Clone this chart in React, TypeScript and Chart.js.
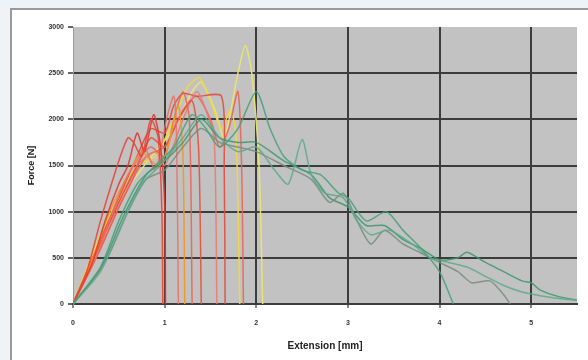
import React, { useEffect, useRef } from "react";
import { Chart, registerables } from "chart.js";

Chart.register(...registerables);

type P = [number, number];

// Extension [mm], Force [N]
const red1: P[] = [[0,0],[0.15,350],[0.3,900],[0.42,1300],[0.5,1550],[0.6,1800],[0.66,1750],[0.75,1600],[0.85,2000],[0.93,1800],[0.97,1000],[0.98,0]];
const red2: P[] = [[0,0],[0.2,420],[0.35,900],[0.5,1300],[0.6,1500],[0.7,1850],[0.78,1650],[0.88,2050],[0.95,1750],[1.0,1100],[1.01,0]];
const red3: P[] = [[0,0],[0.25,500],[0.45,1050],[0.6,1400],[0.7,1550],[0.78,1700],[0.9,1450],[1.02,2000],[1.1,2250],[1.13,1800],[1.15,0]];
const orange1: P[] = [[0,0],[0.2,450],[0.4,1000],[0.6,1400],[0.75,1650],[0.85,1550],[0.95,1500],[1.05,1750],[1.15,2150],[1.2,1600],[1.22,0]];
const red4: P[] = [[0,0],[0.3,600],[0.5,1050],[0.65,1350],[0.75,1600],[0.85,1700],[1.0,1600],[1.1,2000],[1.2,2300],[1.27,2000],[1.3,0]];
const red5: P[] = [[0,0],[0.25,550],[0.5,1100],[0.7,1500],[0.85,1800],[1.0,1700],[1.15,2000],[1.3,2200],[1.37,1700],[1.4,0]];
const red6: P[] = [[0,0],[0.3,650],[0.5,1100],[0.7,1500],[0.9,1650],[1.0,1500],[1.2,2000],[1.35,2300],[1.45,2100],[1.54,1800],[1.57,0]];
const red7: P[] = [[0,0],[0.3,700],[0.5,1150],[0.7,1600],[0.85,1900],[1.0,1850],[1.1,2150],[1.2,2280],[1.35,2250],[1.62,2250],[1.65,1500],[1.66,0]];
const red8: P[] = [[0,0],[0.3,600],[0.55,1150],[0.8,1600],[1.0,1700],[1.2,2100],[1.35,2250],[1.5,2000],[1.6,1700],[1.7,1900],[1.8,2300],[1.84,1500],[1.86,0]];
const yellow1: P[] = [[0,0],[0.3,750],[0.5,1150],[0.7,1500],[0.9,1600],[1.1,2000],[1.25,2350],[1.38,2450],[1.5,2200],[1.62,1900],[1.72,2100],[1.78,1800],[1.82,0]];
const yellow2: P[] = [[0,0],[0.3,700],[0.5,1100],[0.7,1400],[0.9,1650],[1.1,1900],[1.3,2300],[1.4,2400],[1.55,2100],[1.65,1800],[1.8,2500],[1.88,2800],[1.95,2500],[2.03,1500],[2.07,0]];
const green1: P[] = [[0,0],[0.3,400],[0.5,900],[0.7,1300],[0.9,1500],[1.1,1700],[1.3,2050],[1.45,1900],[1.6,1700],[1.8,1900],[2.0,2300],[2.15,1900],[2.3,1600],[2.5,1450],[2.7,1400],[2.9,1200],[3.0,1150],[3.2,900],[3.42,1000],[3.6,800],[3.8,600],[4.0,350],[4.15,0]];
const green2: P[] = [[0,0],[0.3,350],[0.55,900],[0.75,1300],[0.95,1500],[1.2,1800],[1.4,2050],[1.6,1800],[1.8,1650],[2.0,1700],[2.2,1450],[2.35,1300],[2.5,1780],[2.6,1400],[2.75,1200],[2.95,1150],[3.1,900],[3.25,750],[3.45,800],[3.7,650],[3.9,500],[4.1,450],[4.3,400],[4.5,300],[4.7,200],[4.9,130],[5.1,90],[5.3,60],[5.5,40]];
const green3: P[] = [[0,0],[0.35,450],[0.6,1000],[0.8,1350],[1.0,1450],[1.2,1700],[1.4,1900],[1.6,1750],[1.8,1700],[2.0,1650],[2.3,1500],[2.6,1350],[2.8,1100],[2.95,1200],[3.1,900],[3.25,650],[3.4,800],[3.6,650],[3.8,550],[4.0,450],[4.2,350],[4.35,230],[4.55,250],[4.7,100],[4.77,0]];
const green4: P[] = [[0,0],[0.3,380],[0.55,950],[0.8,1400],[1.0,1550],[1.2,1750],[1.4,2000],[1.6,1800],[1.8,1750],[2.0,1750],[2.3,1550],[2.6,1400],[2.8,1150],[3.0,1050],[3.2,850],[3.4,850],[3.6,700],[3.8,600],[4.0,480],[4.2,500],[4.3,560],[4.5,450],[4.7,350],[4.9,250],[5.0,230],[5.1,150],[5.3,80],[5.5,40]];

const curves: P[][] = [green1, green2, green3, green4, red1, red2, red3, orange1, red4, red5, red6, red7, red8, yellow1, yellow2];
const curveColors = [
  "rgba(70,160,120,0.85)", "rgba(90,170,140,0.85)", "rgba(120,140,125,0.85)", "rgba(60,150,110,0.85)",
  "rgba(230,70,55,0.9)", "rgba(220,60,50,0.9)", "rgba(235,110,100,0.85)", "rgba(245,150,40,0.95)",
  "rgba(235,95,80,0.85)", "rgba(230,80,60,0.9)", "rgba(235,120,110,0.85)", "rgba(225,75,60,0.9)",
  "rgba(235,100,90,0.9)", "rgba(240,215,70,0.95)", "rgba(235,230,110,0.95)",
];

const xTicks = [0, 1, 2, 3, 4, 5];
const yTicks = [0, 500, 1000, 1500, 2000, 2500, 3000];

const plotBg = {
  id: "plotBg",
  beforeDraw(chart: any) {
    const { ctx, chartArea: a } = chart;
    ctx.save();
    ctx.fillStyle = "#c2c2c2";
    ctx.fillRect(a.left, a.top, a.right - a.left, a.bottom - a.top);
    ctx.restore();
  },
};

const tickFont = { family: "Liberation Sans", size: 7, weight: "bold" as const };

export default function App() {
  const ref = useRef<HTMLCanvasElement>(null);
  useEffect(() => {
    document.body.style.margin = "0";
    const chart = new Chart(ref.current!, {
      type: "line",
      data: {
        datasets: curves.map((c, i) => ({
          data: c.map(([x, y]) => ({ x, y })),
          borderColor: curveColors[i],
          borderWidth: 1.5,
          pointRadius: 0,
          fill: false,
          tension: 0.25,
        })),
      },
      options: {
        animation: false,
        responsive: false,
        events: [],
        layout: { padding: { top: 27, right: 11, left: 26, bottom: 8 } },
        plugins: { legend: { display: false }, tooltip: { enabled: false } },
        scales: {
          x: {
            type: "linear",
            min: 0,
            max: 5.5,
            afterBuildTicks: (s: any) => { s.ticks = xTicks.map((v) => ({ value: v })); },
            afterFit: (s: any) => { s.height = 48; },
            ticks: { color: "#333", font: tickFont, padding: 11, callback: (v: any) => String(v) },
            grid: {
              color: (c: any) => (c.tick && c.tick.value === 0 ? "transparent" : "#3c3c3c"),
              lineWidth: 2,
              tickLength: 4,
              tickColor: "#888",
            },
            border: { display: true, color: "#3c3c3c", width: 2 },
            title: { display: true, text: "Extension [mm]", color: "#222", font: { family: "Liberation Sans", size: 10, weight: "bold" }, padding: { top: 4, bottom: 0 } },
          },
          y: {
            type: "linear",
            min: 0,
            max: 3000,
            afterBuildTicks: (s: any) => { s.ticks = yTicks.map((v) => ({ value: v })); },
            afterFit: (s: any) => { s.width = 47; },
            ticks: { color: "#333", font: tickFont, padding: 4, callback: (v: any) => String(v) },
            grid: {
              color: (c: any) => (c.tick && c.tick.value === 3000 ? "transparent" : "#3c3c3c"),
              lineWidth: 2,
              tickLength: 5,
              tickColor: "#666",
            },
            border: { display: true, color: "#9a9a9a", width: 1 },
            title: { display: true, text: "Force [N]", color: "#222", font: { family: "Liberation Sans", size: 9, weight: "bold" }, padding: { top: 0, bottom: 0 } },
          },
        },
      },
      plugins: [plotBg],
    } as any);
    return () => chart.destroy();
  }, []);

  return (
    <div style={{ position: "relative", width: 588, height: 360, background: "#edf3f7", overflow: "hidden" }}>
      <div style={{ position: "absolute", left: 10, top: 8, width: 590, height: 360, background: "#fff", borderTop: "2px solid #9a9a9a", borderLeft: "2px solid #9a9a9a" }} />
      <canvas ref={ref} width={588} height={360} style={{ position: "absolute", left: 0, top: 0 }} />
    </div>
  );
}
